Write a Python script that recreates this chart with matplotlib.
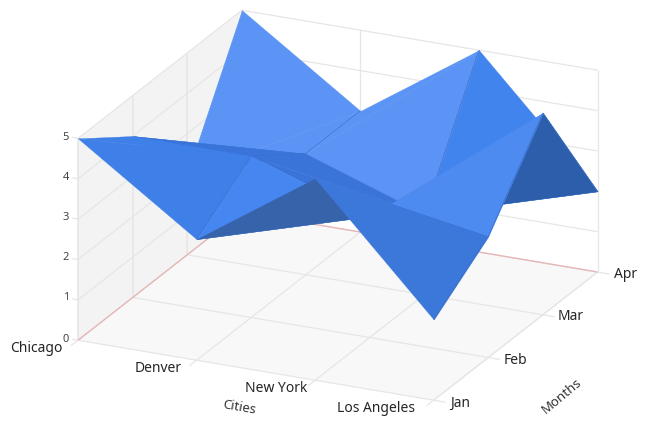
import matplotlib
matplotlib.use('Agg')
import matplotlib.pyplot as plt
from mpl_toolkits.mplot3d.art3d import Poly3DCollection

cities = ['Chicago', 'Denver', 'New York', 'Los Angeles']
months = ['Jan', 'Feb', 'Mar', 'Apr']
z_ticks = [0, 1, 2, 3, 4, 5]

chicago = [5, 4, 2, 5]
denver = [3, 4, 3, 3]
new_york = [5, 3, 2, 5]
los_angeles = [2, 3, 5, 2]
values = [chicago, denver, new_york, los_angeles]

plt.rcParams['font.family'] = ['Noto Sans', 'DejaVu Sans']

W, H = 646, 425
fig = plt.figure(figsize=(W / 100, H / 100), dpi=100)
ax = fig.add_axes([42 / W, -76 / H, 576 / W, 576 / H], projection='3d', computed_zorder=False)
ax.set_proj_type('ortho')
ax.view_init(elev=21.3, azim=-65.1)
ax.set_box_aspect((392.4, 389.3, 216.8))
ax.set_xlim(0, 3)
ax.set_ylim(0, 3)
ax.set_zlim(0, 5)
ax.set_axis_off()

GRID = '#e6e6e6'
RED = '#e8b4b4'
xmax = len(cities) - 1
ymax = len(months) - 1
zmax = z_ticks[-1]


def pane(pts, color, zo):
    ax.add_collection3d(Poly3DCollection([pts], facecolors=color, edgecolors='none', zorder=zo))


# floor and left wall
pane([(0, 0, 0), (xmax, 0, 0), (xmax, ymax, 0), (0, ymax, 0)], '#f8f8f8', 1)
pane([(0, 0, 0), (0, ymax, 0), (0, ymax, zmax), (0, 0, zmax)], '#f3f3f3', 1)


def line(xs, ys, zs, color=GRID, lw=0.9, zo=2):
    ax.plot(xs, ys, zs, color=color, lw=lw, zorder=zo, solid_capstyle='butt')


for i in range(len(cities)):
    line([i, i], [-0.13, ymax], [0, 0])          # floor
    line([i, i], [ymax, ymax], [0, zmax])        # back wall
for j in range(len(months)):
    line([0, xmax + 0.1], [j, j], [0, 0])        # floor
    line([0, 0], [j, j], [0, zmax], lw=1.2)      # left wall
for z in z_ticks:
    line([-0.05, 0], [0, 0], [z, z])
    line([0, 0], [0, ymax], [z, z])
    line([0, xmax], [ymax, ymax], [z, z])
line([xmax, xmax], [0, ymax], [0, 0])
line([0, 0], [0, ymax], [0, 0], color=RED, zo=3)
line([0, xmax], [ymax, ymax], [0, 0], color=RED, zo=3)

# each cell (i, j) is split along (i, j)-(i+1, j+1), drawn back to front
cells = [
    (0, 2, '#5b94f4', '#5b94f4'),
    (1, 2, '#5b94f4', '#5b94f4'),
    (2, 2, '#2d5eab', '#4184ee'),
    (0, 1, '#3a74d8', '#3d7be2'),
    (1, 1, '#3a74d8', '#3a74d8'),
    (2, 1, '#4d8bf0', '#4d8bf0'),
    (0, 0, '#3f7fe8', '#3f7fe8'),
    (1, 0, '#3763ab', '#4686f0'),
    (2, 0, '#3c78da', '#3c78da'),
]


def vert(i, j):
    return (i, j, values[i][j])


zo = 10
for i, j, lower, upper in cells:
    tris = [
        ([vert(i, j), vert(i + 1, j + 1), vert(i, j + 1)], upper),
        ([vert(i, j), vert(i + 1, j), vert(i + 1, j + 1)], lower),
    ]
    for pts, c in tris:
        ax.add_collection3d(Poly3DCollection([pts], facecolors=c, edgecolors=c, linewidths=0.3, zorder=zo))
        zo += 1
    # faint fold line on the cell's right side
    a, b = vert(i + 1, j), vert(i + 1, j + 1)
    line([a[0], b[0]], [a[1], b[1]], [a[2], b[2]], color='#3a6fc8', lw=0.5, zo=zo)
    zo += 1


def label(px, py, s, **kw):
    fig.text(px / W, 1 - py / H, s, ha=kw.pop('ha', 'center'), va='center', **kw)


city_pos = [(36, 348), (158, 368), (276, 388), (376, 408)]
month_pos = [(460, 403), (515, 360), (571, 317), (626, 275)]
z_pos = [339, 298, 258, 217, 177, 138]

for s, (px, py) in zip(cities, city_pos):
    label(px, py, s, fontsize=10, color='#262626')
for s, (px, py) in zip(months, month_pos):
    label(px, py, s, fontsize=10, color='#262626')
for z, py in zip(z_ticks, z_pos):
    label(69, py, str(z), ha='right', fontsize=8, color='#444444')

label(239, 407, 'Cities', fontsize=9.5, color='#333333', rotation=-10)
label(562, 396, 'Months', fontsize=9.5, color='#333333', rotation=40)

fig.savefig('out.png', dpi=100)
plt.close()
